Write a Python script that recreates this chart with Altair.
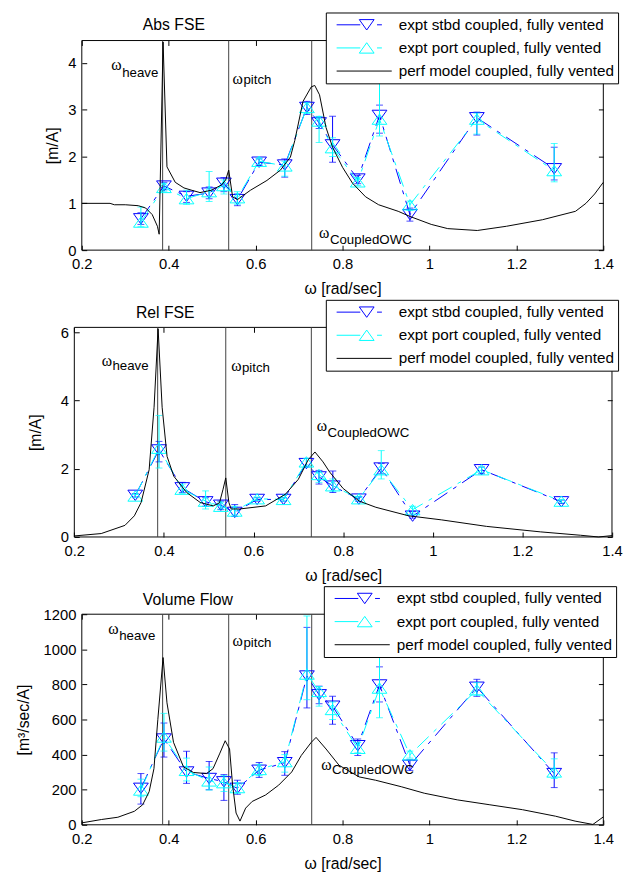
import altair as alt
import pandas as pd

# ---------------- data ----------------
SERIES = ["expt stbd coupled, fully vented", "expt port coupled, fully vented",
          "perf model coupled, fully vented"]
X_TICKS = [0.2, 0.4, 0.6, 0.8, 1.0, 1.2, 1.4]
X_EXPT = [0.336, 0.389, 0.441, 0.493, 0.527, 0.558, 0.608, 0.667, 0.718, 0.746,
          0.777, 0.835, 0.885, 0.955, 1.109, 1.287]
RES_X = [0.386, 0.538, 0.729]
RES_NAMES = ["heave", "pitch", "CoupledOWC"]

# Abs FSE
ABS_MODEL_X = [0.2, 0.265, 0.275, 0.30, 0.33, 0.347, 0.362, 0.374, 0.378, 0.387, 0.396, 0.415,
               0.435, 0.453, 0.472, 0.498, 0.521, 0.531, 0.538, 0.547, 0.558, 0.588, 0.626,
               0.657, 0.68, 0.69, 0.709, 0.728, 0.736, 0.747, 0.762, 0.777, 0.8, 0.823, 0.853,
               0.883, 0.928, 0.955, 1.004, 1.042, 1.11, 1.177, 1.26, 1.336, 1.36, 1.38, 1.4]
ABS_MODEL_Y = [1.0, 1.0, 0.97, 0.97, 0.95, 0.9, 0.76, 0.51, 0.34, 4.45, 1.78, 1.45, 1.33, 1.28,
               1.23, 1.28, 1.39, 1.5, 1.71, 1.14, 1.08, 1.28, 1.49, 1.71, 1.99, 2.34, 3.18, 3.49,
               3.52, 3.32, 2.62, 2.2, 1.77, 1.43, 1.14, 0.97, 0.83, 0.72, 0.55, 0.46, 0.42, 0.51,
               0.65, 0.83, 1.0, 1.2, 1.45]
ABS_STBD = [0.67, 1.37, 1.15, 1.22, 1.43, 1.08, 1.88, 1.82, 3.05, 2.72, 2.25, 1.52, 2.88, 0.76, 2.83, 1.74]
ABS_STBD_LO = [0.55, 1.29, 1.02, 1.10, 1.25, 0.95, 1.81, 1.56, 2.90, 2.60, 1.88, 1.42, 2.50, 0.62, 2.46, 1.50]
ABS_STBD_HI = [0.80, 1.45, 1.25, 1.35, 1.55, 1.20, 1.95, 1.95, 3.18, 2.85, 2.86, 1.60, 3.10, 0.90, 2.95, 2.20]
ABS_PORT = [0.60, 1.34, 1.10, 1.25, 1.38, 1.12, 1.90, 1.80, 3.05, 2.76, 2.19, 1.46, 2.80, 0.97, 2.80, 1.70]
ABS_PORT_LO = [0.50, 1.26, 0.98, 1.04, 1.20, 0.98, 1.83, 1.58, 2.92, 2.30, 2.00, 1.38, 2.44, 0.85, 2.48, 1.46]
ABS_PORT_HI = [0.92, 1.42, 1.28, 1.68, 1.50, 1.25, 1.97, 1.90, 3.15, 2.86, 2.40, 1.55, 3.90, 1.05, 2.93, 2.28]
ABS_Y_TICKS = [0, 1, 2, 3, 4]
ABS_OM_X = [0.268, 0.547, 0.746]
ABS_OM_Y = [3.96, 3.65, 0.36]
ABS_SUB_Y = [3.71, 3.56, 0.13]

# Rel FSE
REL_MODEL_X = [0.2, 0.26, 0.313, 0.334, 0.349, 0.367, 0.378, 0.387, 0.396, 0.407, 0.422, 0.451,
               0.481, 0.51, 0.524, 0.532, 0.538, 0.545, 0.55, 0.569, 0.627, 0.671, 0.7, 0.722,
               0.737, 0.755, 0.77, 0.8, 0.836, 0.873, 0.946, 1.02, 1.12, 1.24, 1.33, 1.37, 1.4]
REL_MODEL_Y = [0.03, 0.1, 0.34, 0.62, 1.01, 1.97, 3.8, 6.1, 3.8, 2.36, 1.78, 1.3, 1.01, 0.91,
               1.0, 1.4, 1.73, 1.01, 0.82, 0.82, 0.91, 1.25, 1.69, 2.26, 2.49, 2.2, 1.9, 1.42,
               1.05, 0.87, 0.62, 0.5, 0.31, 0.15, 0.05, 0.0, 0.04]
REL_STBD = [1.22, 2.55, 1.44, 1.03, 0.93, 0.72, 1.10, 1.10, 2.15, 1.76, 1.49, 1.11, 2.02, 0.61, 1.97, 1.03]
REL_STBD_LO = [1.17, 2.20, 1.30, 0.90, 0.80, 0.60, 1.05, 1.05, 2.05, 1.55, 1.30, 1.04, 1.85, 0.55, 1.85, 0.98]
REL_STBD_HI = [1.27, 2.80, 1.60, 1.15, 1.05, 0.95, 1.15, 1.15, 2.30, 1.95, 1.93, 1.18, 2.15, 0.75, 2.05, 1.08]
REL_PORT = [1.20, 2.60, 1.40, 1.05, 0.90, 0.76, 1.12, 1.10, 2.20, 1.83, 1.50, 1.12, 1.97, 0.80, 1.97, 1.05]
REL_PORT_LO = [1.15, 2.02, 1.28, 0.82, 0.82, 0.65, 1.07, 1.05, 2.08, 1.60, 1.35, 1.05, 1.70, 0.70, 1.88, 1.00]
REL_PORT_HI = [1.25, 3.56, 1.55, 1.35, 1.02, 0.90, 1.17, 1.15, 2.30, 1.90, 1.70, 1.19, 2.53, 0.90, 2.04, 1.10]
REL_Y_TICKS = [0, 2, 4, 6]
REL_OM_X = [0.261, 0.550, 0.741]
REL_OM_Y = [5.14, 5.0, 3.25]
REL_SUB_Y = [4.88, 4.84, 2.94]

# Volume Flow
VOL_MODEL_X = [0.2, 0.245, 0.283, 0.321, 0.34, 0.355, 0.366, 0.375, 0.387, 0.396, 0.411, 0.434,
               0.457, 0.487, 0.502, 0.517, 0.53, 0.54, 0.547, 0.555, 0.564, 0.577, 0.592, 0.623,
               0.653, 0.683, 0.705, 0.728, 0.739, 0.762, 0.792, 0.838, 0.876, 0.935, 0.988,
               1.064, 1.139, 1.214, 1.29, 1.335, 1.376, 1.4]
VOL_MODEL_Y = [11, 30, 43, 77, 114, 189, 320, 601, 953, 695, 470, 330, 298, 292, 320, 404, 479,
               432, 226, 67, 21, 95, 133, 170, 226, 301, 395, 470, 498, 432, 339, 273, 254, 217,
               180, 142, 114, 86, 49, 21, 2, 45]
VOL_STBD = [208, 489, 301, 264, 245, 208, 311, 354, 848, 741, 676, 451, 797, 339, 784, 292]
VOL_STBD_LO = [118, 386, 236, 200, 139, 174, 270, 282, 666, 690, 573, 395, 700, 310, 732, 212]
VOL_STBD_HI = [292, 580, 419, 361, 286, 254, 355, 417, 1125, 790, 732, 489, 900, 370, 829, 410]
VOL_PORT = [198, 500, 310, 250, 240, 212, 315, 360, 859, 760, 657, 436, 779, 399, 769, 301]
VOL_PORT_LO = [160, 420, 250, 198, 190, 180, 280, 300, 713, 676, 600, 410, 610, 380, 740, 264]
VOL_PORT_HI = [260, 635, 380, 330, 280, 240, 345, 400, 1190, 788, 700, 470, 960, 420, 810, 376]
VOL_Y_TICKS = [0, 200, 400, 600, 800, 1000, 1200]
VOL_OM_X = [0.261, 0.547, 0.751]
VOL_OM_Y = [1117, 1046, 342]
VOL_SUB_Y = [1054, 1016, 292]

# ---------------- styling ----------------
FONT = "Liberation Sans"
BLUE = "#0000ff"
CYAN = "#00ffff"
DASH = [16, 7, 4, 7]
TRI_DOWN = "M-1,-0.7L1,-0.7L0,0.7Z"
TRI_UP = "M-1,0.7L1,0.7L0,-0.7Z"
LEG_STBD = "M-0.19,0L2.81,0M2.69,-0.66L4.57,-0.66L3.63,0.66ZM4.94,0L5.56,0"
LEG_PORT = "M-0.19,0L2.81,0M2.69,0.66L4.57,0.66L3.63,-0.66ZM4.94,0L5.56,0"
LEG_MODEL = "M-0.19,0L6.81,0"


def make_panel(title, title_dx, title_off, ytitle, ytitle_x, ymax, yticks, mx, my, s, slo, shi,
               p, plo, phi, om_x, om_y, sub_y, leg_x, leg_y, width, height, xrange=None,
               left_offset=-5):
    xkw = dict(domain=[0.2, 1.4], nice=False, zero=False)
    if xrange is not None:
        xkw["range"] = xrange
    xsc = alt.Scale(**xkw)
    ysc = alt.Scale(domain=[0, ymax], nice=False, zero=False)

    bottom_axis = alt.Axis(orient="bottom", values=X_TICKS, format="~g", title="ω [rad/sec]",
                           offset=-5, tickSize=5, domain=False, labelPadding=7,
                           titlePadding=9, grid=False, labelFlush=False, labelOverlap=False)
    left_axis = alt.Axis(orient="left", values=yticks, format="d", title=ytitle,
                         offset=left_offset, tickSize=5, domain=False, labelPadding=6,
                         titleX=ytitle_x, titleBaseline="middle", titleAngle=270,
                         grid=False, labelFlush=False, labelOverlap=False)
    top_axis = alt.Axis(orient="top", values=X_TICKS, labels=False, title=None,
                        offset=-5, tickSize=5, domain=False, grid=False)
    right_axis = alt.Axis(orient="right", values=yticks, labels=False, title=None,
                          offset=-5, tickSize=5, domain=False, grid=False)

    frame = alt.Chart(pd.DataFrame({"x0": [0.2], "x1": [1.4], "y0": [0], "y1": [ymax]})).mark_rect(
        filled=False, color="black", strokeWidth=1
    ).encode(
        x=alt.X("x0:Q", scale=xsc, axis=top_axis), x2="x1:Q",
        y=alt.Y("y0:Q", scale=ysc, axis=right_axis), y2="y1:Q",
    )

    rules = alt.Chart(pd.DataFrame({"x": RES_X})).mark_rule(color="#404040", strokeWidth=1).encode(
        x=alt.X("x:Q", scale=xsc, axis=None)
    )

    def expt(vals, lo, hi, color, shape):
        df = pd.DataFrame({"x": X_EXPT, "y": vals, "lo": lo, "hi": hi})
        caps = pd.DataFrame({"x": X_EXPT + X_EXPT, "y": lo + hi})
        X = alt.X("x:Q", scale=xsc, axis=None)
        bars = alt.Chart(df).mark_rule(color=color, strokeWidth=1).encode(
            x=X, y=alt.Y("lo:Q", scale=ysc, axis=None), y2="hi:Q")
        capm = alt.Chart(caps).mark_tick(orient="horizontal", size=7, thickness=1, color=color).encode(
            x=X, y=alt.Y("y:Q", scale=ysc, axis=None))
        line = alt.Chart(df).mark_line(color=color, strokeWidth=1, strokeDash=DASH).encode(
            x=X, y=alt.Y("y:Q", scale=ysc, axis=None))
        pts = alt.Chart(df).mark_point(shape=shape, size=225, filled=False, color=color,
                                       strokeWidth=1, opacity=1).encode(
            x=X, y=alt.Y("y:Q", scale=ysc, axis=None))
        return [bars, capm, line, pts]

    model = alt.Chart(pd.DataFrame({"x": mx, "y": my})).mark_line(color="black", strokeWidth=1).encode(
        x=alt.X("x:Q", scale=xsc, axis=bottom_axis),
        y=alt.Y("y:Q", scale=ysc, axis=left_axis),
    )

    labdf = pd.DataFrame({"x": om_x, "y": om_y, "ys": sub_y, "name": RES_NAMES})
    omega = alt.Chart(labdf).mark_text(text="ω", font="Liberation Serif", fontSize=16, align="left",
                                      baseline="middle", color="black").encode(
        x=alt.X("x:Q", scale=xsc, axis=None), y=alt.Y("y:Q", scale=ysc, axis=None))
    sub = alt.Chart(labdf).mark_text(font=FONT, fontSize=13.5, align="left", baseline="alphabetic",
                                    dx=11, color="black").encode(
        x=alt.X("x:Q", scale=xsc, axis=None), y=alt.Y("ys:Q", scale=ysc, axis=None),
        text="name:N")

    leg = alt.Legend(orient="none", legendX=leg_x, legendY=leg_y, title=None, padding=4,
                     fillColor="white", strokeColor="black", labelFont=FONT, labelFontSize=15.5,
                     labelColor="black", labelOffset=53, labelLimit=0, symbolSize=256,
                     symbolStrokeWidth=1, rowPadding=6.5)
    legdf = pd.DataFrame({"series": SERIES, "x": [0.0, 0.0, 0.0], "y": [0, 0, 0]})
    legend_layer = alt.Chart(legdf).mark_point(filled=False, clip=True, size=256, strokeWidth=1,
                                               opacity=1).encode(
        x=alt.X("x:Q", scale=xsc, axis=None), y=alt.Y("y:Q", scale=ysc, axis=None),
        color=alt.Color("series:N", scale=alt.Scale(domain=SERIES, range=[BLUE, CYAN, "black"]),
                        legend=leg),
        shape=alt.Shape("series:N", scale=alt.Scale(domain=SERIES, range=[LEG_STBD, LEG_PORT, LEG_MODEL]),
                        legend=leg),
    )

    layers = [frame, rules] + expt(s, slo, shi, BLUE, TRI_DOWN) + expt(p, plo, phi, CYAN, TRI_UP) + \
             [model, omega, sub, legend_layer]
    return alt.layer(*layers).resolve_axis(x="independent", y="independent").properties(
        width=width, height=height,
        title=alt.TitleParams(title, anchor="start", frame="group", dx=title_dx, offset=title_off,
                              fontSize=16, font=FONT, fontWeight="normal", color="black"),
    )


p1 = make_panel("Abs FSE", 62, -21.4, "[m/A]", -35, 4.48, ABS_Y_TICKS, ABS_MODEL_X, ABS_MODEL_Y,
                ABS_STBD, ABS_STBD_LO, ABS_STBD_HI, ABS_PORT, ABS_PORT_LO, ABS_PORT_HI,
                ABS_OM_X, ABS_OM_Y, ABS_SUB_Y, 248, -28.5, 530, 213)
p2 = make_panel("Rel FSE", 55, -22.4, "[m/A]", -44.3, 6.14, REL_Y_TICKS, REL_MODEL_X, REL_MODEL_Y,
                REL_STBD, REL_STBD_LO, REL_STBD_HI, REL_PORT, REL_PORT_LO, REL_PORT_HI,
                REL_OM_X, REL_OM_Y, REL_SUB_Y, 248, -28, 539, 213,
                xrange=[-7.6, 538.8], left_offset=2.6)
p3 = make_panel("Volume Flow", 62, -22.4, "[m³/sec/A]", -64, 1200, VOL_Y_TICKS, VOL_MODEL_X,
                VOL_MODEL_Y, VOL_STBD, VOL_STBD_LO, VOL_STBD_HI, VOL_PORT, VOL_PORT_LO, VOL_PORT_HI,
                VOL_OM_X, VOL_OM_Y, VOL_SUB_Y, 246, -28.5, 530, 214)

chart = alt.vconcat(p1, p2, p3, spacing=2.5).resolve_scale(
    color="independent", shape="independent"
).resolve_legend(
    color="independent", shape="independent"
).configure_view(stroke=None).configure_axis(
    labelFont=FONT, labelFontSize=15, titleFont=FONT, titleFontSize=16, titleFontWeight="normal",
    labelColor="black", titleColor="black", tickColor="black", grid=False
).properties(
    padding={"left": 8, "top": -3, "right": 0, "bottom": 0}, background="white"
)

chart.save("out.html", embed_options={"renderer": "svg", "actions": False})
